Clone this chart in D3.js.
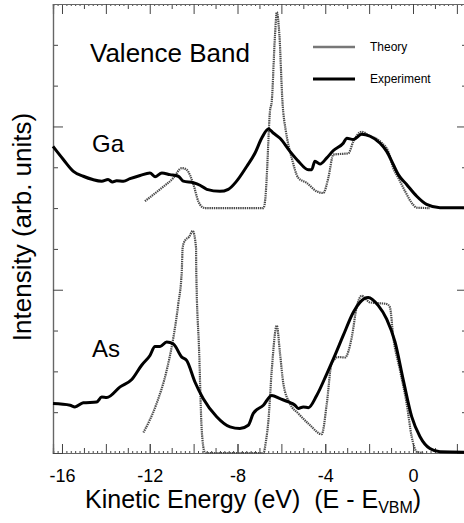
<!DOCTYPE html>
<html>
<head>
<meta charset="utf-8">
<script src="https://cdn.jsdelivr.net/npm/d3@7/dist/d3.min.js"></script>
<style>
  body { margin: 0; background: #fff; }
  svg { display: block; font-family: "Liberation Sans", Arial, sans-serif; }
  .frame path.domain { stroke: #666; }
  .frame line { stroke: #444; }
</style>
</head>
<body>
<div id="chart"></div>
<script>
// [energy (eV), intensity (arb. units)]
const gaExperiment = [
  [-16.41, 7.51], [-15.94, 7.19], [-15.48, 6.90], [-15.03, 6.78], [-14.6, 6.70], [-14.19, 6.66],
  [-13.9, 6.70], [-13.7, 6.64], [-13.51, 6.67], [-13.2, 6.66], [-12.9, 6.72], [-12.44, 6.80],
  [-11.99, 6.86], [-11.76, 6.77], [-11.45, 6.86], [-11.08, 6.82], [-10.70, 6.78], [-10.47, 6.66],
  [-10.01, 6.62], [-9.71, 6.56], [-9.40, 6.46], [-8.80, 6.41], [-8.42, 6.46], [-8.04, 6.66],
  [-7.58, 7.02], [-7.20, 7.35], [-6.90, 7.71], [-6.59, 7.94], [-6.37, 7.84], [-6.06, 7.71],
  [-5.61, 7.39], [-5.23, 7.15], [-4.77, 6.94], [-4.62, 6.94], [-4.47, 7.15], [-4.24, 7.08],
  [-3.93, 7.23], [-3.63, 7.41], [-3.18, 7.59], [-3.02, 7.71], [-2.72, 7.68], [-2.34, 7.81],
  [-1.96, 7.76], [-1.50, 7.59], [-1.20, 7.39], [-0.90, 7.07], [-0.67, 6.82], [-0.29, 6.58],
  [0.17, 6.29], [0.62, 6.09], [1.23, 6.01], [2.4, 6.01]
];

const gaTheory = [
  [-12.22, 6.17], [-11.53, 6.46], [-10.92, 6.74], [-10.54, 6.98], [-10.32, 6.94], [-10.01, 6.58],
  [-9.79, 6.17], [-9.62, 6.03], [-9.48, 6.0], [-6.82, 6.0], [-6.72, 6.3], [-6.67, 6.74],
  [-6.52, 8.37], [-6.44, 8.61], [-6.29, 10.24], [-6.21, 10.8], [-6.09, 10.24], [-5.95, 8.6],
  [-5.8, 7.9], [-5.68, 7.55], [-5.53, 7.23], [-5.23, 6.74], [-4.85, 6.62], [-4.39, 6.41],
  [-4.09, 6.37], [-3.86, 6.74], [-3.63, 7.31], [-3.18, 7.33], [-2.95, 7.34], [-2.72, 7.63],
  [-2.34, 7.87], [-2.04, 7.79], [-1.43, 7.60], [-1.13, 7.39], [-0.90, 6.98], [-0.67, 6.74],
  [-0.36, 6.41], [0.01, 6.08], [0.17, 6.01], [0.77, 6.0]
];

const asExperiment = [
  [-16.41, 1.21], [-15.63, 1.17], [-15.41, 1.13], [-15.03, 1.23], [-14.42, 1.25], [-14.19, 1.37],
  [-13.96, 1.36], [-13.35, 1.62], [-12.82, 1.80], [-12.37, 2.15], [-11.99, 2.39], [-11.76, 2.61],
  [-11.53, 2.61], [-11.23, 2.72], [-10.92, 2.67], [-10.54, 2.35], [-10.32, 2.27], [-9.94, 1.74],
  [-9.56, 1.33], [-8.95, 0.89], [-8.34, 0.64], [-7.89, 0.60], [-7.51, 0.68], [-7.28, 0.97],
  [-6.82, 1.17], [-6.44, 1.41], [-6.06, 1.33], [-5.68, 1.25], [-5.38, 1.17], [-5.23, 1.09],
  [-5.00, 1.13], [-4.77, 1.11], [-4.39, 1.41], [-3.93, 1.94], [-3.56, 2.39], [-3.18, 2.88],
  [-2.72, 3.45], [-2.42, 3.69], [-2.04, 3.81], [-1.58, 3.61], [-1.20, 3.28], [-0.82, 2.72],
  [-0.44, 1.78], [-0.06, 0.89], [0.32, 0.40], [0.77, 0.11], [1.23, 0.03], [2.4, 0.02]
];

const asTheory = [
  [-12.29, 0.50], [-11.69, 1.21], [-11.23, 2.02], [-10.92, 2.84], [-10.70, 3.65], [-10.54, 4.46],
  [-10.5, 5.03], [-10.4, 5.2], [-10.2, 5.3], [-10.04, 5.44], [-9.89, 5.03], [-9.88, 4.46],
  [-9.75, 2.51], [-9.63, 0.56], [-9.5, 0.03], [-9.4, 0], [-6.82, 0], [-6.7, 0.3], [-6.59, 0.80],
  [-6.44, 2.02], [-6.21, 3.12], [-6.06, 2.43], [-5.91, 1.70], [-5.61, 1.21], [-5.23, 0.97],
  [-4.69, 0.68], [-4.16, 0.46], [-3.93, 1.21], [-3.71, 2.19], [-3.40, 2.35], [-3.10, 2.34],
  [-2.79, 2.84], [-2.57, 3.57], [-2.34, 3.85], [-1.96, 3.69], [-1.20, 3.65], [-1.05, 3.57],
  [-0.90, 2.84], [-0.59, 2.02], [-0.29, 1.21], [-0.06, 0.40], [0.17, 0.03], [0.46, 0]
];

const xLabelTicks = [-16, -12, -8, -4, 0];
const legendNames = ["Theory", "Experiment"];

const width = 464, height = 523;
const plotLeft = 53, plotRight = 465, plotTop = 4, plotBottom = 453;

const svg = d3.select("#chart").append("svg")
  .attr("width", width)
  .attr("height", height);

// scales
const x = d3.scaleLinear().domain([-16.41, 2.37]).range([plotLeft, plotRight]);
const y = d3.scaleLinear().domain([0, 11]).range([plotBottom, plotTop]);

const evenTicks = d3.range(-16, 3, 2);
const oddTicks = d3.range(-15, 3, 2);
const minorTicks = d3.range(-82, 12).map(d => d / 5).filter(d => !Number.isInteger(d));
const yLong = [0, 4, 8];
const yShort = d3.range(1, 12).filter(d => d % 4 !== 0);

// frame + ticks (all ticks point inward)
function addAxis(axis, tx, ty) {
  return svg.append("g")
    .attr("class", "frame")
    .attr("transform", `translate(${tx},${ty})`)
    .call(axis);
}

const noLabel = () => "";

addAxis(d3.axisBottom(x).tickValues(minorTicks).tickSize(-2).tickFormat(noLabel), 0, plotBottom);
addAxis(d3.axisBottom(x).tickValues(oddTicks).tickSize(-5).tickFormat(noLabel), 0, plotBottom);
addAxis(d3.axisBottom(x).tickValues(evenTicks).tickSize(-9).tickFormat(noLabel), 0, plotBottom);
const xAxis = addAxis(d3.axisBottom(x).tickValues(xLabelTicks).tickSize(-9).tickPadding(16)
  .tickFormat(d => String(d)), 0, plotBottom);
xAxis.select(".domain").remove();
xAxis.selectAll("text").attr("font-size", 18).attr("fill", "#000").attr("font-family", "Liberation Sans, Arial, sans-serif");

addAxis(d3.axisTop(x).tickValues(minorTicks).tickSize(-2).tickFormat(noLabel), 0, plotTop);
addAxis(d3.axisTop(x).tickValues(oddTicks).tickSize(-5).tickFormat(noLabel), 0, plotTop);
addAxis(d3.axisTop(x).tickValues(evenTicks).tickSize(-10).tickFormat(noLabel), 0, plotTop);

addAxis(d3.axisLeft(y).tickValues(yShort).tickSize(-5).tickFormat(noLabel), plotLeft, 0);
addAxis(d3.axisLeft(y).tickValues(yLong).tickSize(-10).tickFormat(noLabel), plotLeft, 0);
addAxis(d3.axisRight(y).tickValues(yShort).tickSize(-3).tickFormat(noLabel), plotRight, 0);
addAxis(d3.axisRight(y).tickValues(yLong).tickSize(-8).tickFormat(noLabel), plotRight, 0);

svg.selectAll(".frame .domain").attr("stroke-width", 1.2);

// curves
const line = d3.line()
  .x(d => x(d[0]))
  .y(d => y(d[1]))
  .curve(d3.curveMonotoneX);

const theoryStyle = g => g.attr("fill", "none").attr("stroke", "#4a4a4a")
  .attr("stroke-width", 2.2).attr("stroke-dasharray", "1.4,0.8");
const expStyle = g => g.attr("fill", "none").attr("stroke", "#000")
  .attr("stroke-width", 3).attr("stroke-linejoin", "round");

svg.append("path").datum(gaTheory).attr("d", line).call(theoryStyle);
svg.append("path").datum(asTheory).attr("d", line).call(theoryStyle);
svg.append("path").datum(gaExperiment).attr("d", line).call(expStyle);
svg.append("path").datum(asExperiment).attr("d", line).call(expStyle);

// legend
const legend = svg.append("g").attr("transform", "translate(313,0)");
legend.append("line").attr("x1", 0).attr("x2", 42).attr("y1", 47).attr("y2", 47)
  .attr("stroke", "#777").attr("stroke-width", 2.5);
legend.append("line").attr("x1", 0).attr("x2", 42).attr("y1", 79).attr("y2", 79)
  .attr("stroke", "#000").attr("stroke-width", 3);
legend.selectAll("text.leg")
  .data(legendNames)
  .enter()
  .append("text")
  .attr("class", "leg")
  .attr("x", 57)
  .attr("y", (d, i) => 51 + i * 32)
  .attr("font-size", 12)
  .text(d => d);

// annotations
svg.append("text").attr("x", 90).attr("y", 62).attr("font-size", 26).text("Valence Band");
svg.append("text").attr("x", 92).attr("y", 152).attr("font-size", 24).text("Ga");
svg.append("text").attr("x", 92).attr("y", 357).attr("font-size", 24).text("As");

// axis titles
svg.append("text")
  .attr("transform", "translate(31,227) rotate(-90)")
  .attr("text-anchor", "middle")
  .attr("font-size", 26)
  .text("Intensity (arb. units)");

const xt = svg.append("text")
  .attr("x", 85)
  .attr("y", 508)
  .attr("font-size", 25)
  .style("white-space", "pre");
xt.append("tspan").text("Kinetic Energy (eV)  (E - E");
xt.append("tspan").attr("font-size", 16).attr("dy", 5).text("VBM");
xt.append("tspan").attr("dy", -5).text(")");
</script>
</body>
</html>
